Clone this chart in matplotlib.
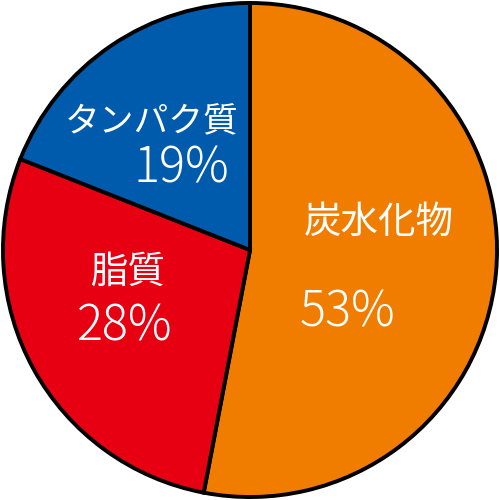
import matplotlib.pyplot as plt

plt.rcParams['font.family'] = ['Noto Sans CJK JP', 'DejaVu Sans']

# データ（時計回り、上から）
labels = ["炭水化物", "脂質", "タンパク質"]
values = [53, 28, 19]
colors = ["#F07C00", "#E60012", "#005BAC"]

# ラベル位置（名前, 割合）
name_pos = [(0.52, 0.113), (-0.496, -0.089), (-0.40, 0.516)]
pct_pos = [(0.395, -0.254), (-0.512, -0.31), (-0.278, 0.33)]
name_size = [27, 27, 25]

fig = plt.figure(figsize=(5, 5), dpi=100)
ax = fig.add_axes([0, 0, 1, 1])
ax.pie(values, colors=colors, startangle=90, counterclock=False, radius=1,
       wedgeprops=dict(edgecolor="black", linewidth=2.8))

for i in range(len(labels)):
    ax.text(name_pos[i][0], name_pos[i][1], labels[i], color="white",
            fontsize=name_size[i], ha="center", va="center")
    ax.text(pct_pos[i][0], pct_pos[i][1], f"{values[i]}%", color="white",
            fontsize=35, ha="center", va="center", fontweight="light")

ax.set_xlim(-1.012, 1.012)
ax.set_ylim(-1.012, 1.012)
ax.set_aspect("equal")
ax.axis("off")
fig.savefig("out.png", dpi=100, facecolor="white")
